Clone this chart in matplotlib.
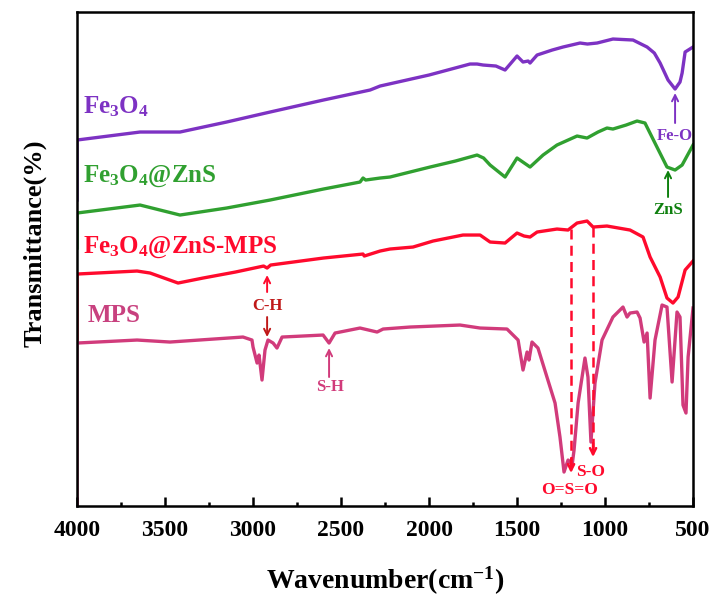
import numpy as np
import matplotlib
matplotlib.use("Agg")
import matplotlib.pyplot as plt

plt.rcParams['font.family'] = ['Liberation Serif', 'DejaVu Serif']
plt.rcParams['font.weight'] = 'bold'
plt.rcParams['mathtext.fontset'] = 'custom'
plt.rcParams['mathtext.rm'] = 'Liberation Serif:bold'
plt.rcParams['mathtext.bf'] = 'Liberation Serif:bold'
plt.rcParams['mathtext.it'] = 'Liberation Serif:bold'

# FTIR spectra, stacked with arbitrary offsets (wavenumber in cm-1)
fe3o4_wn = [4000, 4000, 3642, 3415, 3150, 2903, 2600, 2335, 2278, 2000, 1767, 1727,
            1693, 1620, 1568, 1500, 1466, 1437, 1426, 1386, 1300, 1239, 1142, 1100,
            1045, 955, 841, 761, 720, 687, 642, 602, 574, 562, 545, 500]
fe3o4_t = [306, 366, 374, 374, 384, 394, 406, 416, 420, 431, 442, 442,
           441, 440, 436, 450, 444, 445, 443, 451, 456, 459, 463, 462,
           463, 467, 466, 459, 453, 443, 426, 417, 424, 433, 454, 459]

zns_wn = [4000, 4000, 3642, 3415, 3150, 2903, 2600, 2392, 2375, 2360, 2278, 2222,
          1994, 1850, 1727, 1690, 1653, 1568, 1500, 1426, 1352, 1273, 1159,
          1102, 1040, 989, 955, 880, 818, 773, 705, 648, 602, 562, 500]
zns_t = [258, 293, 301, 291, 298, 306, 317, 324, 328, 326, 328, 329,
         339, 345, 351, 348, 341, 329, 348, 339, 351, 361, 370,
         368, 374, 378, 377, 381, 385, 383, 359, 339, 336, 341, 361]

mps_comp_wn = [4000, 4000, 3659, 3585, 3426, 3284, 3100, 2940, 2920, 2900, 2600,
               2375, 2368, 2278, 2222, 2091, 1977, 1807, 1710, 1653, 1568, 1500,
               1460, 1426, 1386, 1273, 1210, 1159, 1102, 1068, 989, 858, 784,
               744, 687, 648, 614, 585, 545, 500]
mps_comp_t = [166, 232, 235, 233, 223, 228, 234, 240, 238, 241, 248,
              252, 250, 255, 257, 259, 265, 271, 271, 264, 263, 273,
              270, 269, 274, 277, 276, 283, 285, 279, 280, 276, 269,
              249, 229, 208, 203, 209, 236, 245]

mps_wn = [4000, 4000, 3659, 3472, 3057, 3006, 3000, 2977, 2966, 2949, 2932, 2915,
          2886, 2864, 2835, 2602, 2568, 2534, 2392, 2295, 2261, 2108, 1824, 1710,
          1557, 1494, 1466, 1443, 1432, 1415, 1381, 1330, 1284, 1256, 1233, 1210,
          1187, 1176, 1153, 1114, 1097, 1080, 1057, 1017, 955, 898, 875, 858,
          818, 801, 778, 761, 744, 716, 676, 648, 619, 591, 574, 557, 540,
          528, 500]
mps_t = [0, 163, 166, 164, 169, 166, 159, 143, 151, 126, 156, 166,
         163, 158, 169, 171, 163, 173, 178, 174, 177, 179, 181, 178,
         177, 166, 136, 154, 146, 164, 158, 129, 103, 69, 34, 46,
         41, 56, 103, 148, 129, 64, 123, 166, 189, 199, 189, 193,
         194, 188, 164, 173, 108, 166, 201, 199, 124, 194, 189, 101, 93,
         149, 198]

purple = '#7D32C3'
green = '#30A030'
red = '#FF0A2D'
pink = '#D13B7B'

fig = plt.figure(figsize=(7.1, 6.01), dpi=100)
ax = fig.add_axes([0.1085, 0.158, 0.8676, 0.822])

ax.plot(fe3o4_wn, fe3o4_t, color=purple, lw=2.4)
ax.plot(zns_wn, zns_t, color=green, lw=2.4)
ax.plot(mps_comp_wn, mps_comp_t, color=red, lw=2.4)
ax.plot(mps_wn, mps_t, color=pink, lw=2.4)

# curve names
ax.text(3966, 393, r'Fe$_\mathbf{3}$O$_\mathbf{4}$', color=purple, fontsize=18,
        fontweight='bold', ha='left', va='baseline')
ax.text(3966, 324, r'Fe$_\mathbf{3}$O$_\mathbf{4}$@ZnS', color=green, fontsize=18,
        fontweight='bold', ha='left', va='baseline')
ax.text(3966, 253, r'Fe$_\mathbf{3}$O$_\mathbf{4}$@ZnS-MPS', color=red, fontsize=18,
        fontweight='bold', ha='left', va='baseline')
ax.text(3937, 184, 'MPS', color='#C8417F', fontsize=18, fontweight='bold',
        ha='left', va='baseline')

arrow = dict(arrowstyle='->', lw=1.4, shrinkA=0, shrinkB=0, mutation_scale=11)

# band assignments
ax.annotate('', xy=(602, 413), xytext=(602, 383), arrowprops=dict(arrow, color=purple))
ax.text(602, 370, 'Fe-O', color=purple, fontsize=12, ha='center', va='center')
ax.annotate('', xy=(642, 336), xytext=(642, 309), arrowprops=dict(arrow, color='#0F800F'))
ax.text(642, 296, 'ZnS', color='#0F800F', fontsize=12, ha='center', va='center')
ax.annotate('', xy=(2920, 231), xytext=(2920, 214), arrowprops=dict(arrow, color=red))
ax.annotate('', xy=(2920, 169), xytext=(2920, 189), arrowprops=dict(arrow, color='#C01818'))
ax.text(2920, 200, 'C-H', color='#C01818', fontsize=12, ha='center', va='center')
ax.annotate('', xy=(2568, 158), xytext=(2568, 129), arrowprops=dict(arrow, color=pink))
ax.text(2562, 119, 'S-H', color=pink, fontsize=12, ha='center', va='center')

# S=O bands traced down from the composite spectrum
for wn, top, tip in [(1193, 277, 33), (1068, 279, 49)]:
    ax.plot([wn, wn], [top, tip + 8], color=red, lw=1.8, dashes=(4, 2.5))
    ax.annotate('', xy=(wn, tip), xytext=(wn, tip + 14),
                arrowprops=dict(arrow, color=red, lw=1.8))
ax.text(1080, 34, 'S-O', color=red, fontsize=12.5, ha='center', va='center')
ax.text(1199, 16, 'O=S=O', color=red, fontsize=12.5, ha='center', va='center')

ax.set_xlim(4000, 500)
ax.set_ylim(0, 494)
ax.set_xticks([4000, 3500, 3000, 2500, 2000, 1500, 1000, 500])
ax.set_xticks(np.arange(3750, 500, -500), minor=True)
ax.set_yticks([])
ax.tick_params(axis='x', which='major', direction='in', length=6.5, width=1.8,
               labelsize=17, pad=10)
ax.tick_params(axis='x', which='minor', direction='in', length=3.2, width=1.8)
for s in ax.spines.values():
    s.set_linewidth(1.8)

ax.set_xlabel(r'Wavenumber(cm$^\mathbf{-1}$)', fontsize=20, fontweight='bold', labelpad=17)
ax.set_ylabel('Transmittance(%)', fontsize=19, fontweight='bold')
ax.yaxis.set_label_coords(-0.050, 0.532)

fig.savefig('out.png', dpi=100)
